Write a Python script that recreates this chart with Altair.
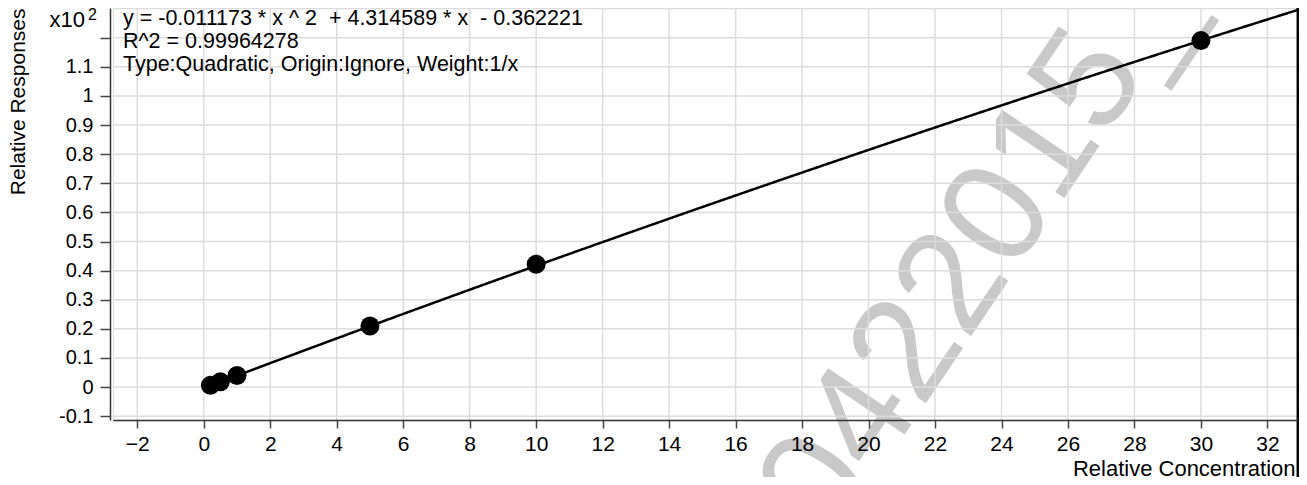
import altair as alt
import pandas as pd

# ---- data ----
conc = [0.2, 0.5, 1.0, 5.0, 10.0, 30.0]          # Relative Concentration
resp = [0.006, 0.018, 0.040, 0.210, 0.422, 1.190] # Relative Responses (x10^2)
coef = [-0.011173, 4.314589, -0.362221]           # quadratic fit shown in the chart
x_ticks = list(range(-2, 33, 2))
y_ticks = [round(-0.1 + 0.1 * i, 1) for i in range(14)]   # -0.1 .. 1.2
y_grid = [round(-0.1 + 0.1 * i, 1) for i in range(15)]    # -0.1 .. 1.3
annot = [
    "y = -0.011173 * x ^ 2 \u00a0+ 4.314589 * x \u00a0- 0.362221",
    "R^2 = 0.99964278",
    "Type:Quadratic, Origin:Ignore, Weight:1/x",
]
annot_y = [11, 34, 57]
watermark = "0422015_"

X_DOMAIN = [-2.73, 32.92]
Y_DOMAIN = [-0.113, 1.302]
FONT = "Liberation Sans"
W, H = 1185, 412
GRID = "#dcdcdc"

pts = pd.DataFrame({"x": conc, "y": resp})

xs = alt.Scale(domain=X_DOMAIN, nice=False, zero=False)
ys = alt.Scale(domain=Y_DOMAIN, nice=False, zero=False)

xaxis = alt.Axis(
    values=x_ticks, format="d", labelFont=FONT, labelFontSize=21, labelColor="black",
    tickSize=8, tickColor="#444", tickWidth=1.5, domainColor="#333", domainWidth=1.5,
    grid=False, labelPadding=5, labelOverlap=False, zindex=1,
    title="Relative Concentration", titleFont=FONT, titleFontSize=22,
    titleFontWeight="normal", titleColor="black", titleAnchor="end", titleAlign="right",
    titleBaseline="middle", titleX=1182, titleY=48, labelFlush=False,
)
yaxis = alt.Axis(
    values=y_ticks, labelExpr="datum.value > 1.15 ? '' : toString(round(datum.value*10)/10)",
    labelFont=FONT, labelFontSize=20, labelColor="black", labelBaseline="middle",
    tickSize=10, tickColor="#444", tickWidth=1.5, domainColor="#333", domainWidth=1.5,
    grid=False, labelPadding=7, offset=3, labelOverlap=False, zindex=1,
    title="Relative Responses", titleFont=FONT, titleFontSize=21, titleFontWeight="normal",
    titleColor="black", titleAngle=270, titleAlign="right", titleBaseline="middle",
    titleX=-92, titleY=0, labelFlush=False,
)


def X(field):
    return alt.X(f"{field}:Q", scale=xs, axis=xaxis)


def Y(field):
    return alt.Y(f"{field}:Q", scale=ys, axis=yaxis)


wm = alt.Chart(pd.DataFrame({"t": [watermark]})).mark_text(
    font=FONT, fontSize=146, color="#c9c9c9", angle=304, align="center", baseline="middle"
).encode(text="t:N", x=alt.value(863), y=alt.value(242))

vgrid = alt.Chart(pd.DataFrame({"x": x_ticks})).mark_rule(color=GRID, strokeWidth=1.5).encode(
    x=X("x")
)
hgrid = alt.Chart(pd.DataFrame({"y": y_grid})).mark_rule(color=GRID, strokeWidth=1.5).encode(
    y=Y("y")
)

a, b, c = coef
curve = alt.Chart(alt.sequence(0.2, 32.95, 0.05, as_="x")).transform_calculate(
    y=f"({a}*datum.x*datum.x + {b}*datum.x + {c})/100"
).mark_line(color="black", strokeWidth=2.5, clip=True).encode(x=X("x"), y=Y("y"))

dots = alt.Chart(pts).mark_circle(size=360, color="black", opacity=1).encode(x=X("x"), y=Y("y"))

annot_layers = [
    alt.Chart(pd.DataFrame({"t": [t]})).mark_text(
        font=FONT, fontSize=21.5, color="black", align="left", baseline="middle"
    ).encode(text="t:N", x=alt.value(10), y=alt.value(yy))
    for t, yy in zip(annot, annot_y)
]

x10 = alt.Chart(pd.DataFrame({"t": ["x10"]})).mark_text(
    font=FONT, fontSize=22, color="black", align="right", baseline="middle"
).encode(text="t:N", x=alt.value(-28), y=alt.value(12))
sup = alt.Chart(pd.DataFrame({"t": ["2"]})).mark_text(
    font=FONT, fontSize=16, color="black", align="right", baseline="middle"
).encode(text="t:N", x=alt.value(-16), y=alt.value(7))

border = alt.Chart(pd.DataFrame({"k": [0]})).mark_rule(color="black", strokeWidth=2.5).encode(
    x=alt.value(1184.8), y=alt.value(-8), y2=alt.value(H + 60)
)

chart = alt.layer(wm, vgrid, hgrid, curve, dots, *annot_layers, x10, sup, border).properties(
    width=W, height=H,
    autosize=alt.AutoSizeParams(type="none"),
    padding={"left": 105, "top": 0, "right": 1, "bottom": 57},
).configure_view(stroke=None).configure_axis(labelOverlap=False).configure(background="white")

chart.save("out.html", embed_options={"renderer": "svg", "actions": False})
